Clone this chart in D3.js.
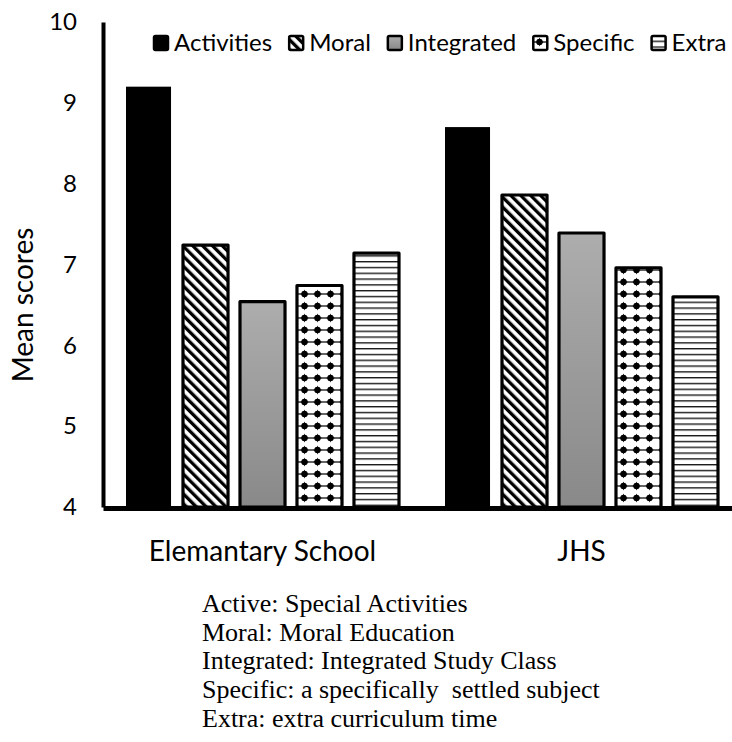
<!DOCTYPE html>
<html>
<head>
<meta charset="utf-8">
<script src="https://cdn.jsdelivr.net/npm/d3@7"></script>
<style>
    body { margin: 0; background: #fff; }
    .axis text { font-family: Lato, "Open Sans", sans-serif; fill: #000; }
    .legend text { font-family: Lato, "Open Sans", sans-serif; font-size: 24px; fill: #000; }
    .note { font-family: "Times New Roman", "Liberation Serif", serif; font-size: 26px; fill: #000; }
</style>
</head>
<body>
<svg id="chart" width="732" height="742"></svg>
<script>
// values
const categories = ['Elemantary School', 'JHS'];
const seriesNames = ['Activities', 'Moral', 'Integrated', 'Specific', 'Extra'];
const activities = [9.20, 8.70];
const moral = [7.24, 7.86];
const integrated = [6.54, 7.39];
const specific = [6.74, 6.96];
const extra = [7.14, 6.60];
const yTicks = [4, 5, 6, 7, 8, 9, 10];
const notes = [
    'Active: Special Activities',
    'Moral: Moral Education',
    'Integrated: Integrated Study Class',
    'Specific: a specifically  settled subject',
    'Extra: extra curriculum time'
];

const seriesValues = [activities, moral, integrated, specific, extra];
const rows = categories.map((c, i) => ({
    category: c,
    values: seriesNames.map((s, j) => ({ key: s, value: seriesValues[j][i] }))
}));

const fills = {
    Activities: '#000',
    Moral: 'url(#moral)',
    Integrated: 'url(#integrated)',
    Specific: 'url(#specific)',
    Extra: 'url(#extra)'
};

const svg = d3.select('#chart');
const defs = svg.append('defs');

// diagonal stripes
const moralPat = defs.append('pattern')
    .attr('id', 'moral')
    .attr('patternUnits', 'userSpaceOnUse')
    .attr('width', 7).attr('height', 7)
    .attr('patternTransform', 'rotate(-45)');
moralPat.append('rect').attr('width', 7).attr('height', 7).attr('fill', '#fff');
moralPat.append('rect').attr('width', 3.3).attr('height', 7).attr('fill', '#000');

// grey gradient
const grad = defs.append('linearGradient')
    .attr('id', 'integrated')
    .attr('x1', 0).attr('y1', 0).attr('x2', 0).attr('y2', 1);
grad.append('stop').attr('offset', '0%').attr('stop-color', '#adadad');
grad.append('stop').attr('offset', '100%').attr('stop-color', '#898989');

// black stars on white, joined by thin horizontal lines
const specPat = defs.append('pattern')
    .attr('id', 'specific')
    .attr('patternUnits', 'userSpaceOnUse')
    .attr('width', 13).attr('height', 12);
specPat.append('rect').attr('width', 13).attr('height', 12).attr('fill', '#fff');
specPat.append('rect').attr('x', 0).attr('y', 5.4).attr('width', 13).attr('height', 1.2).attr('fill', '#000');
specPat.append('path')
    .attr('d', 'M6.5,1.5 Q7.4,5.1 11,6 Q7.4,6.9 6.5,10.5 Q5.6,6.9 2,6 Q5.6,5.1 6.5,1.5 Z')
    .attr('fill', '#000');
specPat.append('circle').attr('cx', 6.5).attr('cy', 6).attr('r', 3.2).attr('fill', '#000');

// horizontal lines
const extraPat = defs.append('pattern')
    .attr('id', 'extra')
    .attr('patternUnits', 'userSpaceOnUse')
    .attr('width', 10).attr('height', 5.8);
extraPat.append('rect').attr('width', 10).attr('height', 5.8).attr('fill', '#fff');
extraPat.append('rect').attr('width', 10).attr('height', 1.4).attr('fill', '#1a1a1a');

// scales
const x0 = d3.scaleBand()
    .domain(categories)
    .range([103, 741]);

const x1 = d3.scaleBand()
    .domain(seriesNames)
    .range([23, 296])
    .paddingInner(0.21);

const y = d3.scaleLinear()
    .domain([4, 10])
    .range([507, 22]);

// bars
const groups = svg.append('g')
    .selectAll('g')
    .data(rows)
    .enter().append('g')
    .attr('transform', d => 'translate(' + x0(d.category) + ',0)');

groups.selectAll('rect')
    .data(d => d.values)
    .enter().append('rect')
    .attr('x', d => x1(d.key))
    .attr('y', d => y(d.value))
    .attr('width', x1.bandwidth())
    .attr('height', d => y(4) - y(d.value))
    .attr('fill', d => fills[d.key])
    .attr('stroke', d => d.key === 'Activities' ? 'none' : '#000')
    .attr('stroke-width', 3.2)
    .attr('stroke-linejoin', 'round');

// y axis
const yAxis = svg.append('g')
    .attr('class', 'axis')
    .attr('transform', 'translate(103,0)')
    .call(d3.axisLeft(y).tickValues(yTicks).tickSize(0).tickPadding(26).tickFormat(d3.format('d')));
yAxis.select('.domain').attr('stroke', '#000').attr('stroke-width', 4);
yAxis.selectAll('text').style('font-size', '24px');

// x axis
const xAxis = svg.append('g')
    .attr('class', 'axis')
    .attr('transform', 'translate(0,' + (y(4) + 1) + ')')
    .call(d3.axisBottom(x0).tickSize(0).tickPadding(33));
xAxis.select('.domain').attr('stroke', '#000').attr('stroke-width', 5);
xAxis.selectAll('text').style('font-size', '28px');

// axis title
svg.append('text')
    .attr('class', 'axis')
    .attr('transform', 'translate(33,305) rotate(-90)')
    .attr('text-anchor', 'middle')
    .style('font-family', 'Lato, "Open Sans", sans-serif')
    .style('font-size', '28px')
    .text('Mean scores');

// legend
const legend = svg.append('g').attr('class', 'legend');
let lx = 153;
seriesNames.forEach(s => {
    legend.append('rect')
        .attr('x', lx + 1).attr('y', 36)
        .attr('width', 14).attr('height', 14)
        .attr('rx', 1.5)
        .attr('fill', fills[s])
        .attr('stroke', '#000')
        .attr('stroke-width', 2.5);
    const t = legend.append('text')
        .attr('x', lx + 21)
        .attr('y', 51)
        .text(s);
    lx += 21 + t.node().getComputedTextLength() + 16;
});

// footnote
svg.append('g')
    .selectAll('text')
    .data(notes)
    .enter().append('text')
    .attr('class', 'note')
    .attr('x', 202)
    .attr('y', (d, i) => 612 + i * 28.7)
    .style('white-space', 'pre')
    .text(d => d);
</script>
</body>
</html>
